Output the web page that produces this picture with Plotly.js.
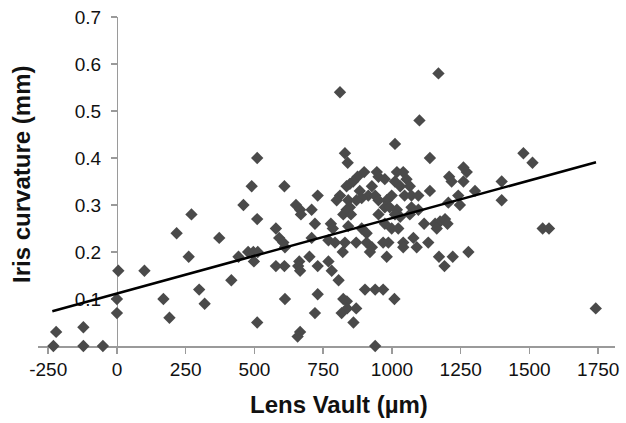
<!DOCTYPE html>
<html>
<head>
<meta charset="utf-8">
<script src="https://cdn.plot.ly/plotly-3.0.1.min.js"></script>
<style>html,body{margin:0;padding:0;background:#fff;}#chart{width:626px;height:423px;}</style>
</head>
<body>
<div id="chart"></div>
<script>
// Lens vault (µm) of each eye
var lensVault = [
  -231, -221, -122, -122, -51, 5, 0, 0, 100, 169, 191, 217, 271, 261, 299, 319, 372, 416,
  510, 490, 609, 460, 510, 829, 839, 730, 651, 666, 669, 708, 578, 590, 605, 611, 720, 708,
  442, 477, 496, 512, 498, 578, 609, 663, 659, 666, 700, 730, 769, 781, 778, 785, 769, 793,
  821, 806, 611, 730, 720, 510, 666, 657, 823, 836, 837, 817, 870, 860, 902, 939, 968, 1009,
  939, 811,
  899, 945, 875, 859, 847, 835, 951, 927, 883, 914, 890, 939, 811, 799, 841, 871, 951, 981,
  847, 835, 823, 851, 951, 841, 890, 974, 908, 908, 829, 870, 927, 920,
  1011, 1138, 1018, 1041, 1053, 1011, 1030, 1065, 974, 1138, 999, 1046, 1071, 1096,
  974, 992, 1018, 1071, 1096, 1065, 1030, 1011, 1117, 1157, 1175, 1193, 999, 1023, 1163,
  1078, 987, 1041, 1041, 1090, 1132,
  968, 981, 1171, 1191, 1221, 1278, 1202, 1247, 1205,
  1169, 1100, 1260, 1272, 1208, 1217, 1260, 1302, 1399, 1399, 1241,
  1478, 1511, 1548, 1571, 1741
];
// Iris curvature (mm) of each eye
var irisCurvature = [
  0, 0.03, 0.04, 0, 0, 0.16, 0.10, 0.07, 0.16, 0.10, 0.06, 0.24, 0.28, 0.19, 0.12, 0.09, 0.23, 0.14,
  0.40, 0.34, 0.34, 0.30, 0.27, 0.41, 0.39, 0.32, 0.30, 0.29, 0.28, 0.29, 0.25, 0.23, 0.22, 0.21, 0.26, 0.23,
  0.19, 0.20, 0.20, 0.20, 0.18, 0.17, 0.17, 0.18, 0.17, 0.16, 0.19, 0.17, 0.18, 0.16, 0.26, 0.25, 0.225, 0.22,
  0.20, 0.14, 0.10, 0.11, 0.07, 0.05, 0.03, 0.02, 0.10, 0.095, 0.08, 0.07, 0.08, 0.05, 0.12, 0.12, 0.12, 0.10,
  0, 0.54,
  0.37, 0.37, 0.36, 0.35, 0.345, 0.34, 0.36, 0.34, 0.33, 0.32, 0.315, 0.32, 0.32, 0.31, 0.31, 0.31, 0.31, 0.31,
  0.295, 0.29, 0.28, 0.28, 0.28, 0.255, 0.25, 0.26, 0.24, 0.22, 0.22, 0.22, 0.21, 0.20,
  0.43, 0.40, 0.37, 0.37, 0.355, 0.35, 0.34, 0.34, 0.355, 0.33, 0.32, 0.32, 0.32, 0.32,
  0.295, 0.295, 0.29, 0.295, 0.29, 0.28, 0.275, 0.28, 0.26, 0.26, 0.265, 0.27, 0.25, 0.25, 0.25,
  0.23, 0.22, 0.22, 0.21, 0.21, 0.22,
  0.22, 0.19, 0.19, 0.17, 0.19, 0.20, 0.26, 0.30, 0.305,
  0.58, 0.48, 0.38, 0.37, 0.36, 0.35, 0.35, 0.33, 0.35, 0.31, 0.32,
  0.41, 0.39, 0.25, 0.25, 0.08
];
// Linear trend line end points
var trendX = [-235, 1742];
var trendY = [0.074, 0.391];

var xTicks = [-250, 0, 250, 500, 750, 1000, 1250, 1500, 1750];
var xTickText = ['-250', '0', '250', '500', '750', '1000', '1250', '1500', '1750'];
var yTicks = [0.1, 0.2, 0.3, 0.4, 0.5, 0.6, 0.7];
var yTickText = ['0.1', '0.2', '0.3', '0.4', '0.5', '0.6', '0.7'];

var font = 'Liberation Sans, Arial, sans-serif';
var axisGray = '#9a9a9a';

var data = [
  {
    type: 'scatter', mode: 'markers',
    x: lensVault, y: irisCurvature,
    marker: {symbol: 'diamond', size: 9.5, color: '#4a4a4a', line: {width: 0}},
    cliponaxis: false, hoverinfo: 'x+y'
  },
  {
    type: 'scatter', mode: 'lines',
    x: trendX, y: trendY,
    line: {color: '#000000', width: 2.5},
    cliponaxis: false, hoverinfo: 'skip'
  }
];

var layout = {
  width: 626, height: 423,
  margin: {l: 38, r: 11, t: 17, b: 77, pad: 0},
  paper_bgcolor: '#ffffff', plot_bgcolor: '#ffffff',
  showlegend: false,
  font: {family: font, size: 19, color: '#111'},
  xaxis: {
    range: [-287, 1811],
    tickvals: xTicks, ticktext: xTickText,
    ticks: 'outside', ticklen: 6, tickwidth: 1.5, tickcolor: axisGray,
    showline: true, linecolor: axisGray, linewidth: 1.5,
    showgrid: false, zeroline: false,
    tickfont: {family: font, size: 19, color: '#111'},
    ticklabelstandoff: 0,
    layer: 'below traces',
    anchor: 'y'
  },
  yaxis: {
    range: [0, 0.7],
    tickvals: yTicks, ticktext: yTickText,
    ticks: 'outside', ticklen: 6, tickwidth: 1.5, tickcolor: axisGray,
    showline: true, linecolor: axisGray, linewidth: 1.5,
    showgrid: false, zeroline: false,
    tickfont: {family: font, size: 19, color: '#111'},
    ticklabelstandoff: 6,
    anchor: 'free', position: 0.1369,
    layer: 'below traces'
  },
  annotations: [
    {
      text: '<b>Lens Vault (µm)</b>', xref: 'paper', yref: 'paper',
      x: 0.522, y: 0, yshift: -58, xanchor: 'center', yanchor: 'middle',
      showarrow: false, font: {family: font, size: 24, color: '#111'}
    },
    {
      text: '<b>Iris curvature (mm)</b>', xref: 'paper', yref: 'paper',
      x: 0, xshift: -16, y: 0.52, xanchor: 'center', yanchor: 'middle',
      textangle: -90,
      showarrow: false, font: {family: font, size: 24, color: '#111'}
    }
  ]
};

Plotly.newPlot('chart', data, layout, {displayModeBar: false, staticPlot: true});
</script>
</body>
</html>
